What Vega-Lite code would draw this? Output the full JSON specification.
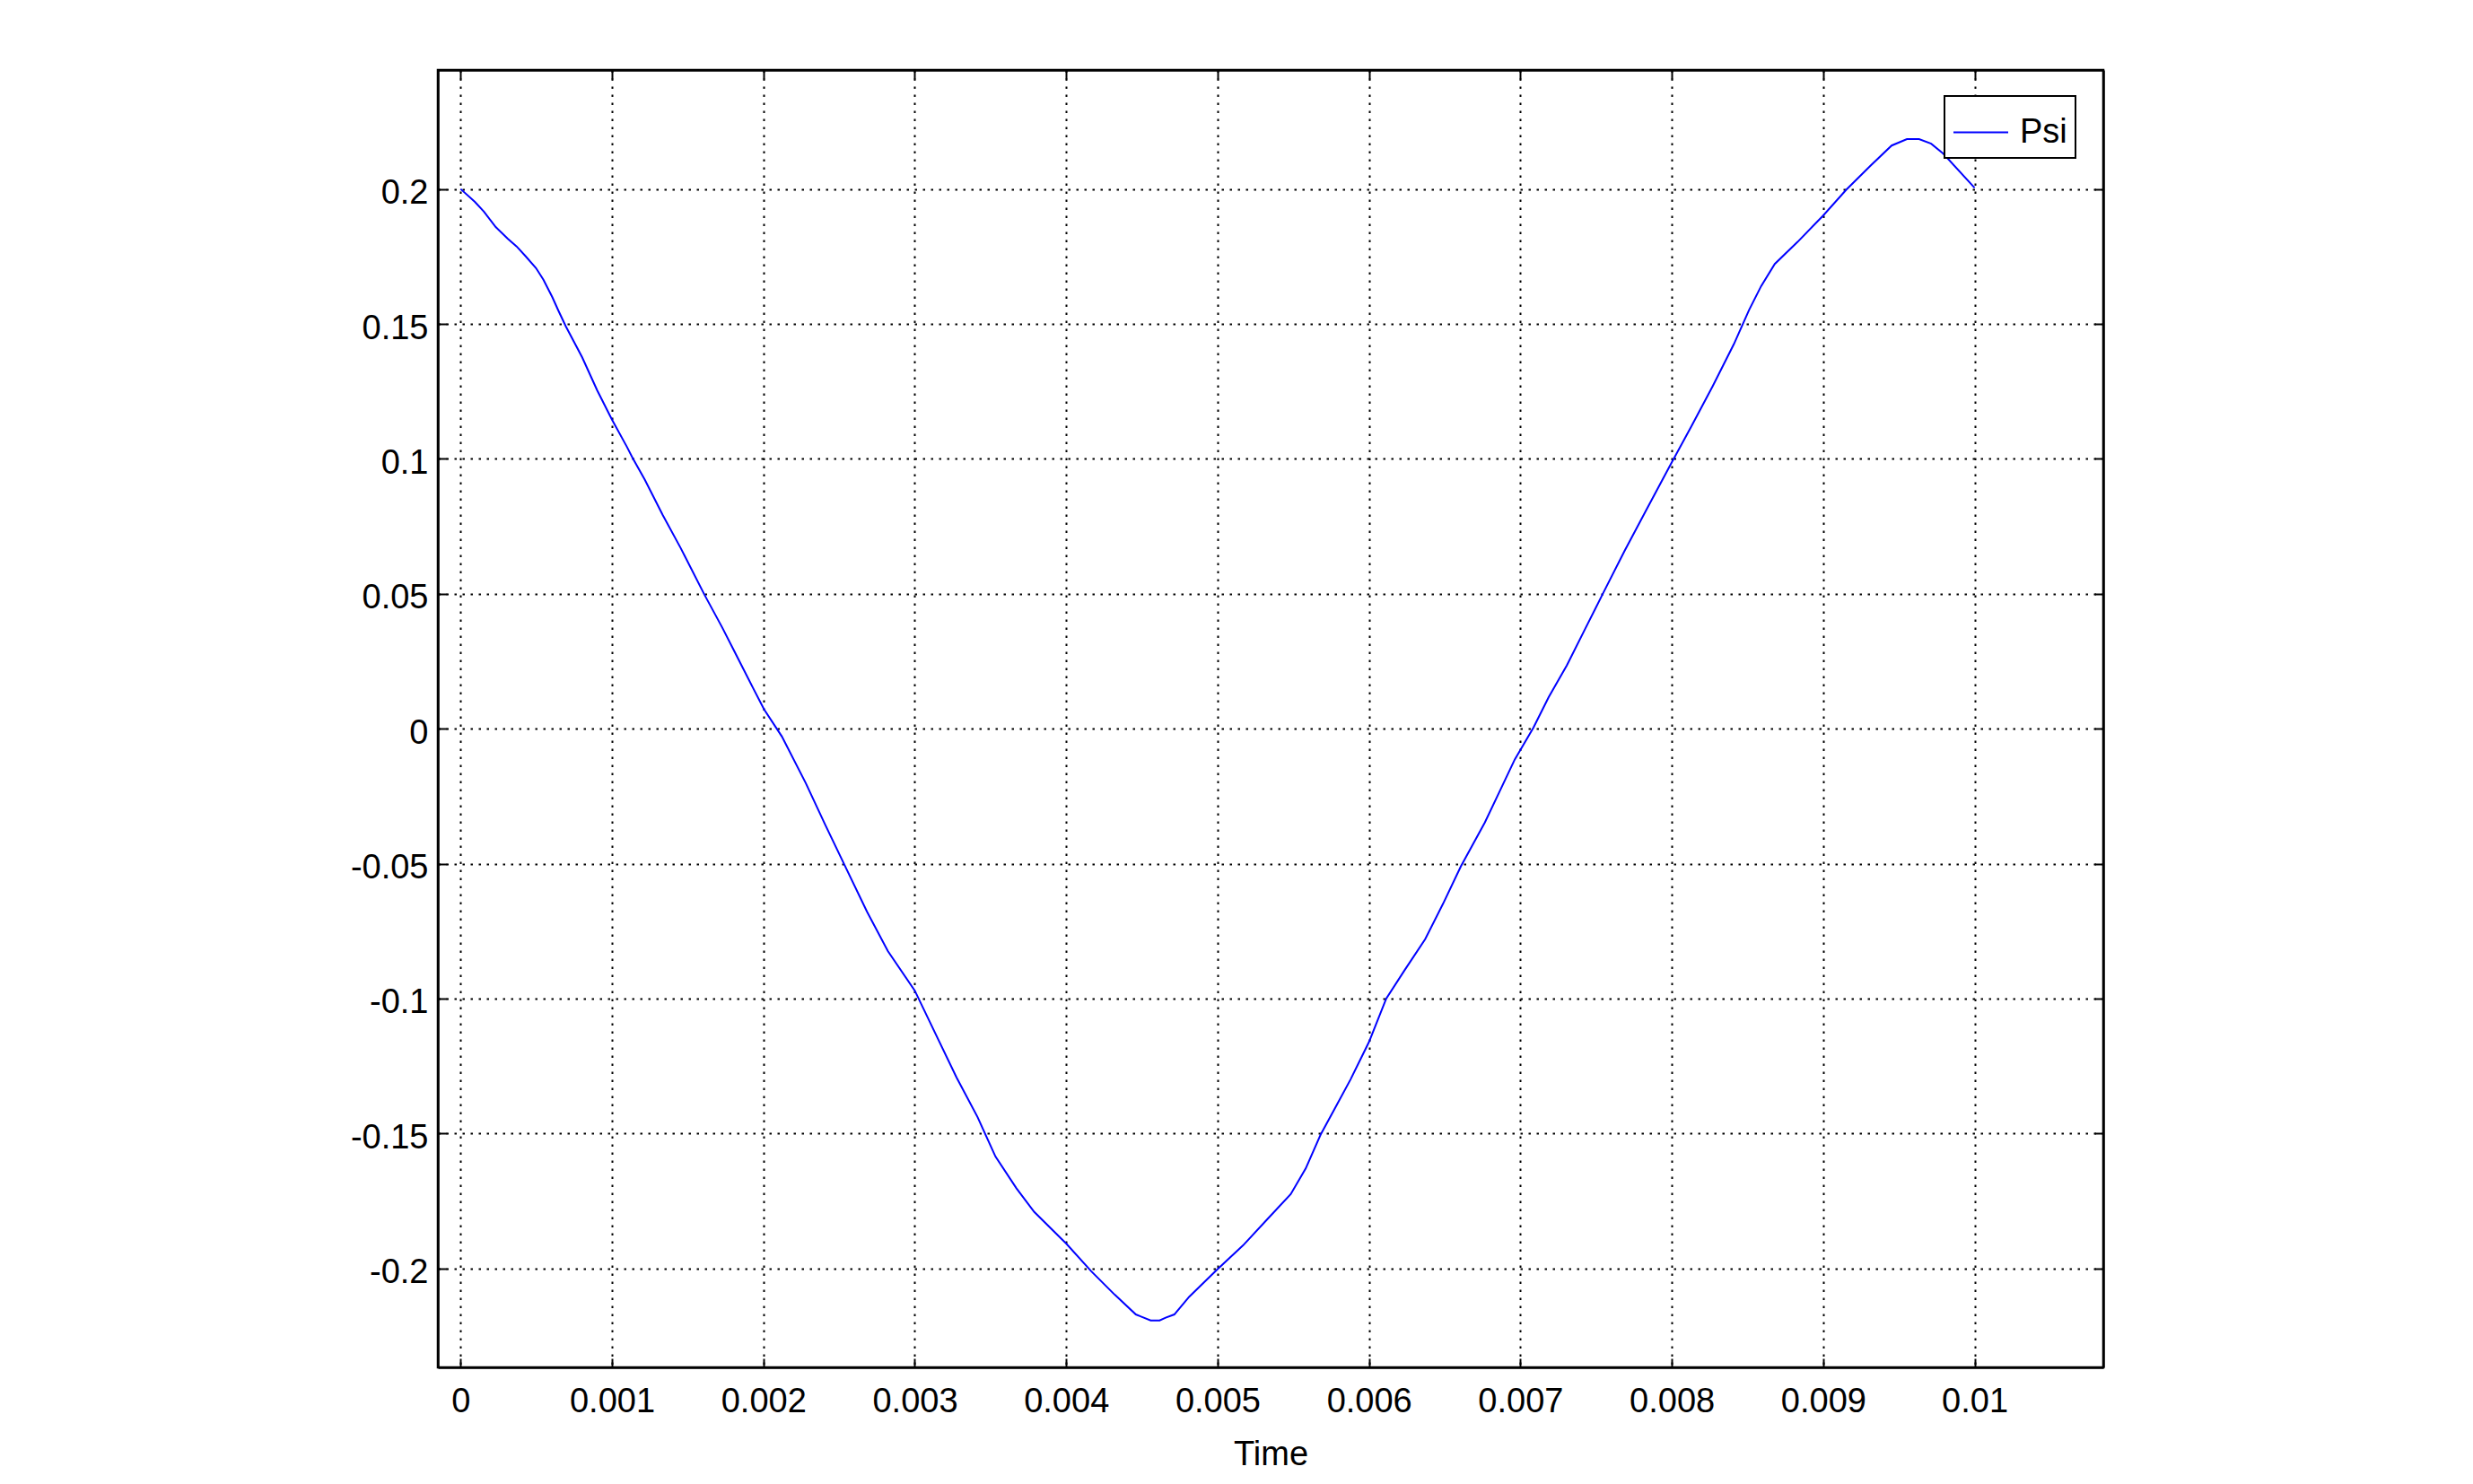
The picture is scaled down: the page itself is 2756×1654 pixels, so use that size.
{
  "$schema": "https://vega.github.io/schema/vega-lite/v6.json",
  "width": 1856,
  "height": 1446,
  "autosize": {"type": "none"},
  "padding": {"left": 488, "top": 78, "right": 412, "bottom": 130},
  "background": "white",
  "config": {
    "view": {"stroke": "black", "strokeWidth": 2.5},
    "font": "Liberation Sans",
    "legend": {"strokeColor": "black", "strokeWidth": 2, "fillColor": "white"},
    "axis": {
      "domainColor": "black",
      "domainWidth": 2.5,
      "tickColor": "black",
      "tickWidth": 2,
      "tickSize": -10,
      "labelFont": "Liberation Sans",
      "labelFontSize": 38,
      "labelColor": "black",
      "titleFont": "Liberation Sans",
      "titleFontSize": 38,
      "titleFontWeight": "normal",
      "titleColor": "black",
      "gridColor": "black",
      "gridOpacity": 1,
      "gridWidth": 2,
      "gridDash": [2.5, 6.5]
    }
  },
  "data": {
    "values": [
      {"t": 0, "psi": 0.2},
      {"t": 0.0000945, "psi": 0.1952},
      {"t": 0.000154, "psi": 0.1916},
      {"t": 0.000232, "psi": 0.1859},
      {"t": 0.000311, "psi": 0.1816},
      {"t": 0.00037, "psi": 0.1787},
      {"t": 0.000429, "psi": 0.1751},
      {"t": 0.000498, "psi": 0.1707},
      {"t": 0.000547, "psi": 0.1664},
      {"t": 0.000606, "psi": 0.1599},
      {"t": 0.000646, "psi": 0.1549},
      {"t": 0.000695, "psi": 0.1491},
      {"t": 0.000803, "psi": 0.1376},
      {"t": 0.000902, "psi": 0.1254},
      {"t": 0.001, "psi": 0.1145},
      {"t": 0.001098, "psi": 0.1045},
      {"t": 0.001138, "psi": 0.1001},
      {"t": 0.001217, "psi": 0.0922},
      {"t": 0.001335, "psi": 0.0792},
      {"t": 0.001453, "psi": 0.067},
      {"t": 0.00161, "psi": 0.0497},
      {"t": 0.001728, "psi": 0.0375},
      {"t": 0.001807, "psi": 0.0288},
      {"t": 0.001925, "psi": 0.0158},
      {"t": 0.002004, "psi": 0.0072},
      {"t": 0.002122, "psi": -0.0029},
      {"t": 0.00228, "psi": -0.0202},
      {"t": 0.002408, "psi": -0.0356},
      {"t": 0.002546, "psi": -0.0517},
      {"t": 0.002684, "psi": -0.0678},
      {"t": 0.002822, "psi": -0.0824},
      {"t": 0.003, "psi": -0.0971},
      {"t": 0.003138, "psi": -0.1132},
      {"t": 0.003276, "psi": -0.1293},
      {"t": 0.003414, "psi": -0.1439},
      {"t": 0.003533, "psi": -0.1586},
      {"t": 0.003671, "psi": -0.1703},
      {"t": 0.003789, "psi": -0.1791},
      {"t": 0.004, "psi": -0.1908},
      {"t": 0.004164, "psi": -0.201},
      {"t": 0.004321, "psi": -0.2098},
      {"t": 0.00446, "psi": -0.2171},
      {"t": 0.004558, "psi": -0.2193},
      {"t": 0.004617, "psi": -0.2193},
      {"t": 0.004657, "psi": -0.2183},
      {"t": 0.004714, "psi": -0.2171},
      {"t": 0.004813, "psi": -0.2105},
      {"t": 0.005, "psi": -0.2003},
      {"t": 0.005168, "psi": -0.1915},
      {"t": 0.005325, "psi": -0.182},
      {"t": 0.005483, "psi": -0.1725},
      {"t": 0.005582, "psi": -0.163},
      {"t": 0.00568, "psi": -0.1505},
      {"t": 0.005779, "psi": -0.1403},
      {"t": 0.005878, "psi": -0.13},
      {"t": 0.006, "psi": -0.1161},
      {"t": 0.006114, "psi": -0.1},
      {"t": 0.006233, "psi": -0.0897},
      {"t": 0.006371, "psi": -0.078},
      {"t": 0.006489, "psi": -0.0649},
      {"t": 0.006607, "psi": -0.051},
      {"t": 0.006765, "psi": -0.0348},
      {"t": 0.006864, "psi": -0.0231},
      {"t": 0.006963, "psi": -0.0114},
      {"t": 0.007086, "psi": 0.0004},
      {"t": 0.007186, "psi": 0.0116},
      {"t": 0.007307, "psi": 0.0235},
      {"t": 0.007427, "psi": 0.0369},
      {"t": 0.007547, "psi": 0.0503},
      {"t": 0.007688, "psi": 0.0659},
      {"t": 0.007828, "psi": 0.0807},
      {"t": 0.007999, "psi": 0.0986},
      {"t": 0.008129, "psi": 0.112},
      {"t": 0.008269, "psi": 0.1268},
      {"t": 0.00841, "psi": 0.1425},
      {"t": 0.00851, "psi": 0.1551},
      {"t": 0.00859, "psi": 0.164},
      {"t": 0.00868, "psi": 0.1722},
      {"t": 0.008831, "psi": 0.1804},
      {"t": 0.008997, "psi": 0.19},
      {"t": 0.009152, "psi": 0.1997},
      {"t": 0.009312, "psi": 0.2086},
      {"t": 0.009452, "psi": 0.2161},
      {"t": 0.009553, "psi": 0.2185},
      {"t": 0.009633, "psi": 0.2185},
      {"t": 0.009713, "psi": 0.2168},
      {"t": 0.009793, "psi": 0.2131},
      {"t": 0.01, "psi": 0.2004}
    ]
  },
  "layer": [
    {
      "mark": {"type": "line", "strokeWidth": 2},
      "encoding": {
        "x": {
          "field": "t",
          "type": "quantitative",
          "scale": {"domain": [-0.00015, 0.01085], "nice": false, "zero": false},
          "axis": {
            "orient": "bottom",
            "values": [0, 0.001, 0.002, 0.003, 0.004, 0.005, 0.006, 0.007, 0.008, 0.009, 0.01],
            "labelExpr": "format(datum.value, '~g')",
            "labelPadding": 29,
            "grid": true,
            "title": "Time",
            "titleBaseline": "alphabetic",
            "titleY": 108
          }
        },
        "y": {
          "field": "psi",
          "type": "quantitative",
          "scale": {"domain": [-0.2367, 0.2441], "nice": false, "zero": false},
          "axis": {
            "orient": "left",
            "values": [-0.2, -0.15, -0.1, -0.05, 0, 0.05, 0.1, 0.15, 0.2],
            "labelExpr": "datum.value < 0 ? '-' + format(-datum.value, '~g') : format(datum.value, '~g')",
            "labelPadding": 21,
            "labelOffset": 5,
            "grid": true,
            "title": null
          }
        },
        "color": {
          "datum": "Psi",
          "type": "nominal",
          "scale": {"range": ["#0000ff"]},
          "legend": {
            "orient": "none",
            "legendX": 1679,
            "legendY": 29,
            "title": null,
            "padding": 9,
            "symbolType": "stroke",
            "symbolSize": 3721,
            "symbolStrokeWidth": 2,
            "labelFont": "Liberation Sans",
            "labelFontSize": 38,
            "labelColor": "black",
            "labelOffset": 12
          }
        }
      }
    },
    {
      "mark": {"type": "line", "opacity": 0},
      "encoding": {
        "x": {
          "field": "t",
          "type": "quantitative",
          "axis": {
            "orient": "top",
            "values": [0, 0.001, 0.002, 0.003, 0.004, 0.005, 0.006, 0.007, 0.008, 0.009, 0.01],
            "labels": false,
            "grid": false,
            "title": null
          }
        },
        "y": {
          "field": "psi",
          "type": "quantitative",
          "axis": {
            "orient": "right",
            "values": [-0.2, -0.15, -0.1, -0.05, 0, 0.05, 0.1, 0.15, 0.2],
            "labels": false,
            "grid": false,
            "title": null
          }
        }
      }
    }
  ],
  "resolve": {"axis": {"x": "independent", "y": "independent"}}
}
